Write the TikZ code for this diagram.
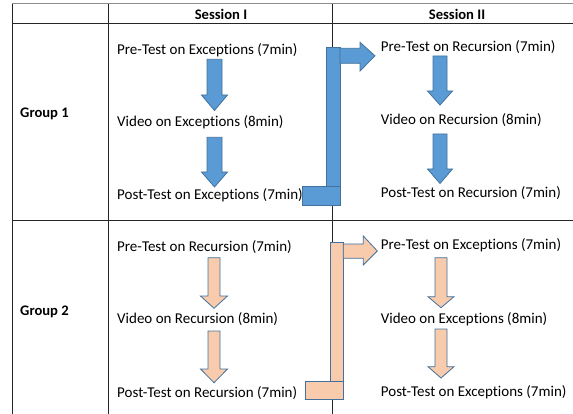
\documentclass[tikz,border=0pt]{standalone}
\usepackage{fontspec}
\setmainfont[Ligatures={NoCommon}]{Carlito}
\definecolor{bfill}{HTML}{5B9BD5}
\definecolor{bline}{HTML}{41719C}
\definecolor{ofill}{HTML}{F8CBAD}
\newcommand\DArrow[7]{\draw[#1] ({#2-#6},#3) -- ({#2+#6},#3) -- ({#2+#6},#4) -- ({#2+#7},#4) -- (#2,#5) -- ({#2-#7},#4) -- ({#2-#6},#4) -- cycle;}
\begin{document}
\begin{tikzpicture}[x=1pt,y=-1pt,
  every node/.style={inner sep=0pt,font=\fontsize{15}{17}\selectfont},
  txt/.style={anchor=west},
  hdr/.style={font=\fontsize{14.6}{16}\selectfont\bfseries},
  tline/.style={draw=black!85,line width=0.8pt},
  blueshape/.style={fill=bfill,draw=bline,line width=0.8pt,line join=miter},
  orangeshape/.style={fill=ofill,draw=bline,line width=0.8pt,line join=miter}]
\useasboundingbox (0,0) rectangle (573,414);
% table
\draw[draw=black!45,line width=1pt] (12,4) -- (573,4);
\draw[tline] (12,4) -- (12,414);
\draw[tline] (108,4) -- (108,414);
\draw[tline] (332,4) -- (332,414);
\draw[tline] (12,23) -- (573,23);
\draw[tline] (12,220.5) -- (573,220.5);
% headers
\node[hdr] (s1) at (221,14) {Session I};
\node[hdr] (s2) at (457,14) {Session II};
\node[hdr,anchor=west] (g1) at (20,114) {Group 1};
\node[hdr,anchor=west] (g2) at (20,312) {Group 2};
% group 1 texts
\node[txt] (a1) at (117,50) {Pre-Test on Exceptions (7min)};
\node[txt] (a2) at (117,122) {Video on Exceptions (8min)};
\node[txt] (a3) at (117,195) {Post-Test on Exceptions (7min)};
\node[txt] (b1) at (380.7,47) {Pre-Test on Recursion (7min)};
\node[txt] (b2) at (380.7,120) {Video on Recursion (8min)};
\node[txt] (b3) at (380.7,192.7) {Post-Test on Recursion (7min)};
% group 2 texts
\node[txt] (c1) at (117,247) {Pre-Test on Recursion (7min)};
\node[txt] (c2) at (117,319.5) {Video on Recursion (8min)};
\node[txt] (c3) at (117,393.5) {Post-Test on Recursion (7min)};
\node[txt] (d1) at (380.7,245.3) {Pre-Test on Exceptions (7min)};
\node[txt] (d2) at (380.7,319.5) {Video on Exceptions (8min)};
\node[txt] (d3) at (380.7,392.5) {Post-Test on Exceptions (7min)};
% blue down arrows
\DArrow{blueshape}{214.5}{59.3}{95}{110.5}{7.5}{13}
\DArrow{blueshape}{214.5}{137.3}{172}{187}{7.5}{13}
\DArrow{blueshape}{440}{56}{91}{105}{7}{12.5}
\DArrow{blueshape}{440}{134}{169}{183.5}{7}{12.5}
% orange down arrows
\DArrow{orangeshape}{214}{257.7}{296}{308.3}{6}{13.5}
\DArrow{orangeshape}{214}{331}{369}{382.7}{6}{13.5}
\DArrow{orangeshape}{441}{257.7}{296.7}{307.7}{6}{13}
\DArrow{orangeshape}{441}{329}{366.7}{378}{6}{13}
% blue bent arrow
\draw[blueshape] (326.7,47.7) rectangle (340,205.7);
\draw[blueshape] (302.3,186.7) rectangle (340,205.7);
\draw[blueshape] (340,48.3) -- (360,48.3) -- (360,42.3) -- (375,55.8) -- (360,71) -- (360,63.3) -- (340,63.3) -- cycle;
% orange bent arrow
\draw[orangeshape] (330,242.7) rectangle (343.3,399.3);
\draw[orangeshape] (305.7,381) rectangle (343.3,399.3);
\draw[orangeshape] (343.3,244) -- (363.3,244) -- (363.3,236) -- (377.3,251) -- (363.3,265) -- (363.3,258.3) -- (343.3,258.3) -- cycle;
\end{tikzpicture}
\end{document}
